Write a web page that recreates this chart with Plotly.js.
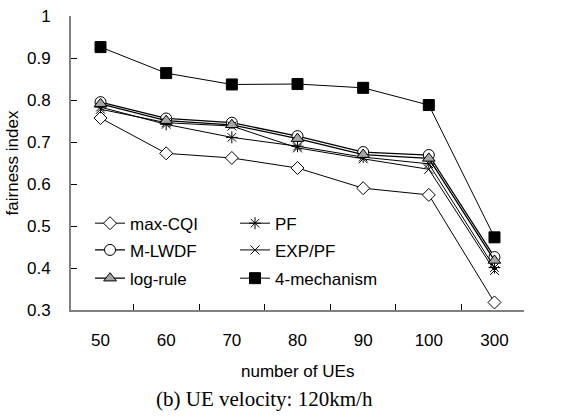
<!DOCTYPE html>
<html><head><meta charset="utf-8">
<script src="https://cdn.plot.ly/plotly-3.0.1.min.js"></script>
<style>html,body{margin:0;padding:0;background:#fff}#c{width:564px;height:416px}</style>
</head><body><div id="c"></div>
<script>
const categories = ['50','60','70','80','90','100','300'];
const maxCQI = [0.757, 0.673, 0.662, 0.638, 0.590, 0.574, 0.318];
const mlwdf = [0.795, 0.756, 0.746, 0.714, 0.676, 0.669, 0.426];
const logRule = [0.791, 0.751, 0.741, 0.708, 0.670, 0.661, 0.418];
const pf = [0.783, 0.742, 0.711, 0.690, 0.664, 0.648, 0.401];
const expPf = [0.778, 0.746, 0.738, 0.686, 0.660, 0.635, 0.394];
const fourMech = [0.926, 0.864, 0.837, 0.838, 0.829, 0.788, 0.473];

function tr(name, y, symbol, size, fill, lw, leg){
  return {type:'scatter', mode:'lines+markers', name:name, x:categories, y:y,
    legend:leg, line:{color:'#000', width:lw||1},
    marker:{symbol:symbol, size:size, color:fill, line:{color:'#000', width:1}}};
}
const data = [
  tr('max-CQI', maxCQI, 'diamond', 10, '#fff', 1, 'legend'),
  tr('PF', pf, 'asterisk-open', 10, '#000', 1, 'legend'),
  tr('M-LWDF', mlwdf, 'circle', 11, '#fff', 1.3, 'legend2'),
  tr('EXP/PF', expPf, 'x-thin-open', 9, '#000', 1, 'legend2'),
  tr('log-rule', logRule, 'triangle-up', 11, '#a6a6a6', 1.3, 'legend3'),
  tr('4-mechanism', fourMech, 'square', 11, '#000', 1, 'legend3'),
];
function leg(y){
  return {orientation:'h', x:0.042, y:y, xanchor:'left', yanchor:'top',
    entrywidth:100, entrywidthmode:'pixels', bgcolor:'rgba(0,0,0,0)',
    font:{size:17}, itemwidth:30};
}
const layout = {
  width:564, height:416,
  margin:{l:71, r:40, t:16, b:106},
  paper_bgcolor:'#fff', plot_bgcolor:'#fff',
  font:{family:'Liberation Sans, Arial, sans-serif', size:17, color:'#000'},
  showlegend:true,
  legend:leg(0.355), legend2:leg(0.264), legend3:leg(0.168),
  xaxis:{type:'category', showline:true, linecolor:'#808080', linewidth:2,
    ticks:'inside', ticklen:6, tickcolor:'#000', tickson:'boundaries',
    showgrid:false, zeroline:false, tickfont:{size:17}, ticklabelstandoff:14},
  yaxis:{range:[0.3,1], dtick:0.1, showline:true, linecolor:'#808080', linewidth:2,
    ticks:'inside', ticklen:6, tickcolor:'#000', showgrid:false, zeroline:false,
    tickfont:{size:17}, ticklabelstandoff:15, tickformat:'.1~f',
    title:{text:'fairness index', font:{size:17}, standoff:4}},
  annotations:[
    {text:'number of UEs', xref:'paper', yref:'paper', x:0.5, y:-0.21, yanchor:'middle',
     showarrow:false, font:{size:17}},
    {text:'(b) UE velocity: 120km/h', xref:'paper', yref:'paper', x:0.428, y:-0.303, yanchor:'middle',
     showarrow:false, font:{family:'Liberation Serif, Times New Roman, serif', size:21}}
  ]
};
Plotly.newPlot('c', data, layout, {staticPlot:true});
</script></body></html>
